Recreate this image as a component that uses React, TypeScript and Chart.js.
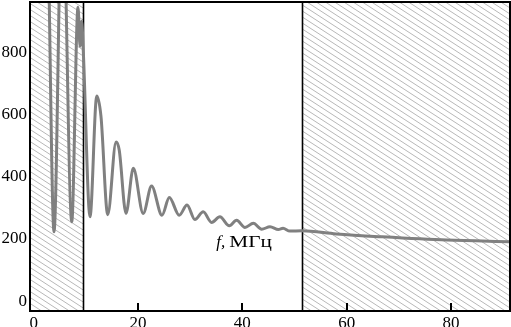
import React, { useEffect, useRef } from "react";
import { Chart, registerables } from "chart.js";

Chart.register(...registerables);

// frequency (MHz) and amplitude readings
const freqX = [
  2.8, 3.9, 5.5, 7.3, 8.5, 8.9, 9.2, 9.5, 10.8, 12.1, 12.9, 14.2, 15.8, 16.4,
  17.7, 19.1, 21.0, 22.6, 24.6, 26.0, 27.9, 29.4, 30.9, 32.5, 34.1, 35.7, 37.5,
  38.9, 40.5, 42.1, 43.7, 45.3, 46.9, 47.8, 49.1, 51.4, 58.0, 66.4, 79.2, 91.3,
];
const ampY = [
  1150, 223, 1350, 255, 945, 820, 900, 810, 271, 660, 595, 278, 512, 486,
  282, 427, 282, 370, 276, 333, 276, 309, 262, 287, 253, 271, 242,
  260, 237, 250, 231, 239, 230, 234, 225, 226, 216, 207, 196, 191,
];
const xTicks = [0, 20, 40, 60, 80];
const yTicks = [0, 200, 400, 600, 800];
const xRange = [-0.7, 91.3];
const yRange = [-32, 962];
const bandEdges = [9.5, 51.4];
const axisLabelAnchor = [35.0, 175];
const axisLabelItalic = "f,";
const axisLabelRest = "МГц";

const SERIF = "'Liberation Serif', 'Times New Roman', serif";

function hatch(ctx: CanvasRenderingContext2D, xa: number, xb: number, ya: number, yb: number) {
  const slope = 0.65;
  const step = 6;
  ctx.save();
  ctx.beginPath();
  ctx.rect(xa, ya, xb - xa, yb - ya);
  ctx.clip();
  ctx.strokeStyle = "#b8b8b8";
  ctx.lineWidth = 1;
  const w = xb - xa;
  ctx.beginPath();
  for (let c = ya - slope * w - step; c <= yb + step; c += step) {
    ctx.moveTo(xa, c);
    ctx.lineTo(xb, c + slope * w);
  }
  ctx.stroke();
  ctx.restore();
}

export default function App() {
  const ref = useRef<HTMLCanvasElement>(null);

  useEffect(() => {
    document.body.style.margin = "0";
    const canvas = ref.current!;
    const decor = {
      id: "decor",
      beforeDatasetsDraw(chart: any) {
        const { ctx, chartArea: a, scales } = chart;
        const x = scales.x;
        const x1 = x.getPixelForValue(bandEdges[0]);
        const x2 = x.getPixelForValue(bandEdges[1]);
        hatch(ctx, a.left, x1, a.top, a.bottom);
        hatch(ctx, x2, a.right, a.top, a.bottom);
        ctx.save();
        ctx.strokeStyle = "#000";
        ctx.lineWidth = 1.6;
        ctx.beginPath();
        for (const px of [x1, x2]) {
          ctx.moveTo(Math.round(px) + 0.5, a.top);
          ctx.lineTo(Math.round(px) + 0.5, a.bottom);
        }
        ctx.stroke();
        ctx.restore();
      },
      afterDatasetsDraw(chart: any) {
        const { ctx, chartArea: a, scales } = chart;
        const x = scales.x;
        const y = scales.y;
        ctx.save();
        ctx.strokeStyle = "#000";
        ctx.lineWidth = 2;
        ctx.strokeRect(a.left, a.top, a.right - a.left, a.bottom - a.top);
        ctx.beginPath();
        for (const v of xTicks) {
          if (v === 0) continue;
          const px = Math.round(x.getPixelForValue(v));
          ctx.moveTo(px, a.bottom);
          ctx.lineTo(px, a.bottom - 8);
        }
        ctx.stroke();
        // axis label
        const lx = x.getPixelForValue(axisLabelAnchor[0]);
        const ly = y.getPixelForValue(axisLabelAnchor[1]);
        ctx.fillStyle = "#000";
        ctx.textBaseline = "alphabetic";
        ctx.textAlign = "left";
        ctx.font = `italic 17px ${SERIF}`;
        ctx.fillText(axisLabelItalic, lx, ly);
        ctx.font = `17px ${SERIF}`;
        ctx.save();
        ctx.translate(lx + 13, ly);
        ctx.scale(1.25, 1);
        ctx.fillText(axisLabelRest, 0, 0);
        ctx.restore();
        ctx.restore();
      },
    };

    const chart = new Chart(canvas, {
      type: "line",
      data: {
        datasets: [
          {
            data: freqX.map((fx, i) => ({ x: fx, y: ampY[i] })),
            borderColor: "#808080",
            borderWidth: 3,
            pointRadius: 0,
            cubicInterpolationMode: "monotone",
            fill: false,
            clip: 0,
          } as any,
        ],
      },
      options: {
        animation: false,
        responsive: false,
        events: [],
        layout: { padding: { top: 2, right: 1, left: 0, bottom: 0 } },
        plugins: { legend: { display: false }, tooltip: { enabled: false } },
        scales: {
          x: {
            type: "linear",
            min: xRange[0],
            max: xRange[1],
            grid: { display: false, drawTicks: false },
            border: { display: false },
            ticks: {
              color: "#000",
              font: { family: SERIF, size: 17 },
              padding: 2,
              maxRotation: 0,
              autoSkip: false,
            },
            afterBuildTicks: (s: any) => {
              s.ticks = xTicks.map((v) => ({ value: v }));
            },
            afterFit: (s: any) => {
              s.height = 16;
              s.paddingLeft = 0;
              s.paddingRight = 0;
            },
          },
          y: {
            type: "linear",
            min: yRange[0],
            max: yRange[1],
            grid: { display: false, drawTicks: false },
            border: { display: false },
            ticks: {
              color: "#000",
              font: { family: SERIF, size: 17 },
              padding: 3,
              autoSkip: false,
            },
            afterBuildTicks: (s: any) => {
              s.ticks = yTicks.map((v) => ({ value: v }));
            },
            afterFit: (s: any) => {
              s.width = 30;
              s.paddingTop = 0;
              s.paddingBottom = 0;
            },
          },
        },
      },
      plugins: [decor],
    });
    return () => chart.destroy();
  }, []);

  return (
    <div style={{ position: "absolute", left: 0, top: 0, width: 511, height: 327 }}>
      <canvas ref={ref} width={511} height={327} style={{ display: "block" }} />
    </div>
  );
}
